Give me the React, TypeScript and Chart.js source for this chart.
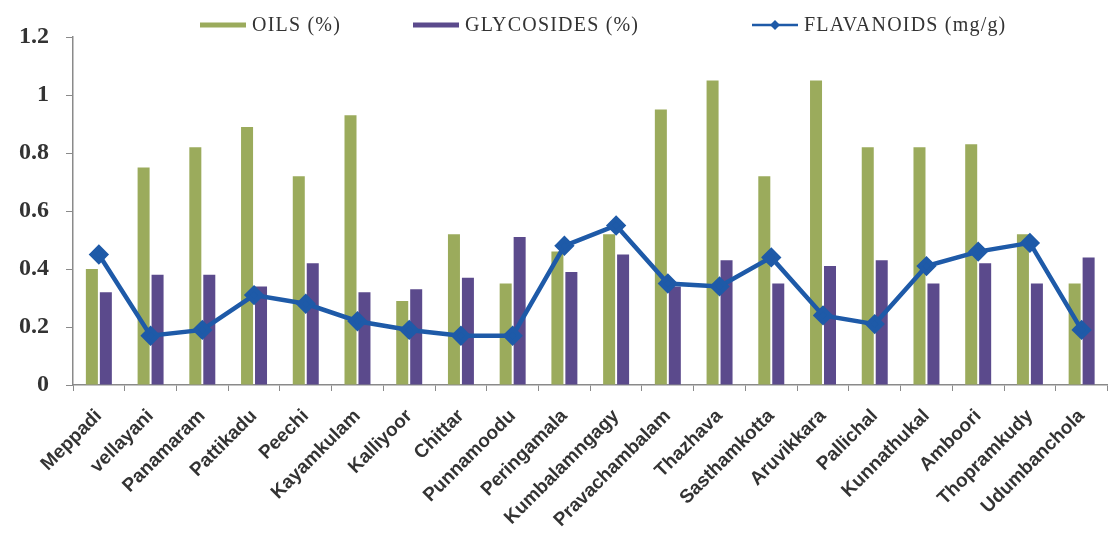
import React, { useEffect, useRef } from "react";
import { Chart, registerables } from "chart.js";

Chart.register(...registerables);

// Sampling sites
const sites: string[] = [
  "Meppadi", "vellayani", "Panamaram", "Pattikadu", "Peechi", "Kayamkulam",
  "Kalliyoor", "Chittar", "Punnamoodu", "Peringamala", "Kumbalamngagy",
  "Pravachambalam", "Thazhava", "Sasthamkotta", "Aruvikkara", "Pallichal",
  "Kunnathukal", "Amboori", "Thopramkudy", "Udumbanchola",
];

// Oil content (%)
const oils: number[] = [
  0.40, 0.75, 0.82, 0.89, 0.72, 0.93, 0.29, 0.52, 0.35, 0.46,
  0.52, 0.95, 1.05, 0.72, 1.05, 0.82, 0.82, 0.83, 0.52, 0.35,
];

// Glycoside content (%)
const glycosides: number[] = [
  0.32, 0.38, 0.38, 0.34, 0.42, 0.32, 0.33, 0.37, 0.51, 0.39,
  0.45, 0.34, 0.43, 0.35, 0.41, 0.43, 0.35, 0.42, 0.35, 0.44,
];

// Flavanoid content (mg/g)
const flavanoids: number[] = [
  0.45, 0.17, 0.19, 0.31, 0.28, 0.22, 0.19, 0.17, 0.17, 0.48,
  0.55, 0.35, 0.34, 0.44, 0.24, 0.21, 0.41, 0.46, 0.49, 0.19,
];

// Y axis range and tick step
const yMin = 0;
const yMax = 1.2;
const yStep = 0.2;

const OIL_COLOR = "#9bab5c";
const GLY_COLOR = "#5b4a8c";
const FLAV_COLOR = "#1e5aa8";
const TEXT_COLOR = "#333333";
const AXIS_COLOR = "#8a8a8a";

// Legend drawn across the top: line swatch, optional diamond, label
const legendItems = [
  { label: "OILS (%)", color: OIL_COLOR, marker: false, x: 200 },
  { label: "GLYCOSIDES (%)", color: GLY_COLOR, marker: false, x: 413 },
  { label: "FLAVANOIDS (mg/g)", color: FLAV_COLOR, marker: true, x: 752 },
];

const topLegend = {
  id: "topLegend",
  afterDraw(chart: Chart) {
    const ctx = chart.ctx as CanvasRenderingContext2D & { letterSpacing?: string };
    const y = 25;
    ctx.save();
    ctx.font = '20px "Liberation Serif"';
    ctx.letterSpacing = "1.2px";
    ctx.textBaseline = "middle";
    ctx.textAlign = "left";
    for (const item of legendItems) {
      const swatchW = 46;
      ctx.strokeStyle = item.color;
      ctx.lineWidth = item.marker ? 2.5 : 5;
      ctx.beginPath();
      ctx.moveTo(item.x, y);
      ctx.lineTo(item.x + swatchW, y);
      ctx.stroke();
      if (item.marker) {
        const cx = item.x + swatchW / 2;
        const r = 5;
        ctx.fillStyle = item.color;
        ctx.beginPath();
        ctx.moveTo(cx, y - r);
        ctx.lineTo(cx + r, y);
        ctx.lineTo(cx, y + r);
        ctx.lineTo(cx - r, y);
        ctx.closePath();
        ctx.fill();
      }
      ctx.fillStyle = TEXT_COLOR;
      ctx.fillText(item.label, item.x + swatchW + 6, y + 1);
    }
    ctx.restore();
  },
};

export default function App() {
  const canvasRef = useRef<HTMLCanvasElement | null>(null);

  useEffect(() => {
    if (!canvasRef.current) return;
    const chart = new Chart(canvasRef.current, {
      type: "bar",
      data: {
        labels: sites,
        datasets: [
          {
            type: "line",
            label: "FLAVANOIDS (mg/g)",
            data: flavanoids,
            borderColor: FLAV_COLOR,
            backgroundColor: FLAV_COLOR,
            borderWidth: 4.5,
            pointStyle: "rectRot",
            pointRadius: 7,
            pointBackgroundColor: FLAV_COLOR,
            pointBorderColor: FLAV_COLOR,
            tension: 0,
            order: 0,
          },
          {
            type: "bar",
            label: "OILS (%)",
            data: oils,
            backgroundColor: OIL_COLOR,
            categoryPercentage: 0.54,
            barPercentage: 0.86,
            order: 1,
          },
          {
            type: "bar",
            label: "GLYCOSIDES (%)",
            data: glycosides,
            backgroundColor: GLY_COLOR,
            categoryPercentage: 0.54,
            barPercentage: 0.86,
            order: 2,
          },
        ],
      },
      options: {
        responsive: true,
        maintainAspectRatio: false,
        animation: false,
        layout: { padding: { top: 37, right: 6, left: 0, bottom: 0 } },
        plugins: {
          legend: { display: false },
          tooltip: { enabled: false },
        },
        scales: {
          x: {
            offset: true,
            grid: {
              display: true,
              drawOnChartArea: false,
              offset: true,
              tickLength: 6,
              color: AXIS_COLOR,
            },
            border: { color: AXIS_COLOR, width: 1.5 },
            ticks: {
              autoSkip: false,
              maxRotation: 45,
              minRotation: 45,
              padding: 14,
              color: TEXT_COLOR,
              font: { family: '"Liberation Sans"', size: 19, weight: "bold" },
            },
            afterFit: (scale: any) => {
              scale.height = 166;
            },
          },
          y: {
            min: yMin,
            max: yMax,
            grid: {
              display: true,
              drawOnChartArea: false,
              tickLength: 7,
              color: AXIS_COLOR,
            },
            border: { color: AXIS_COLOR, width: 1.5 },
            ticks: {
              stepSize: yStep,
              padding: 17,
              color: TEXT_COLOR,
              font: { family: '"Liberation Serif"', size: 24, weight: "bold" },
              callback: (v: any) => String(Math.round(Number(v) * 10) / 10),
            },
            afterFit: (scale: any) => {
              scale.width = 73;
            },
          },
        },
      },
      plugins: [topLegend],
    });
    return () => chart.destroy();
  }, []);

  return (
    <div
      style={{
        position: "fixed",
        left: 0,
        top: 0,
        width: 1119,
        height: 551,
        background: "#ffffff",
      }}
    >
      <canvas ref={canvasRef} />
    </div>
  );
}
